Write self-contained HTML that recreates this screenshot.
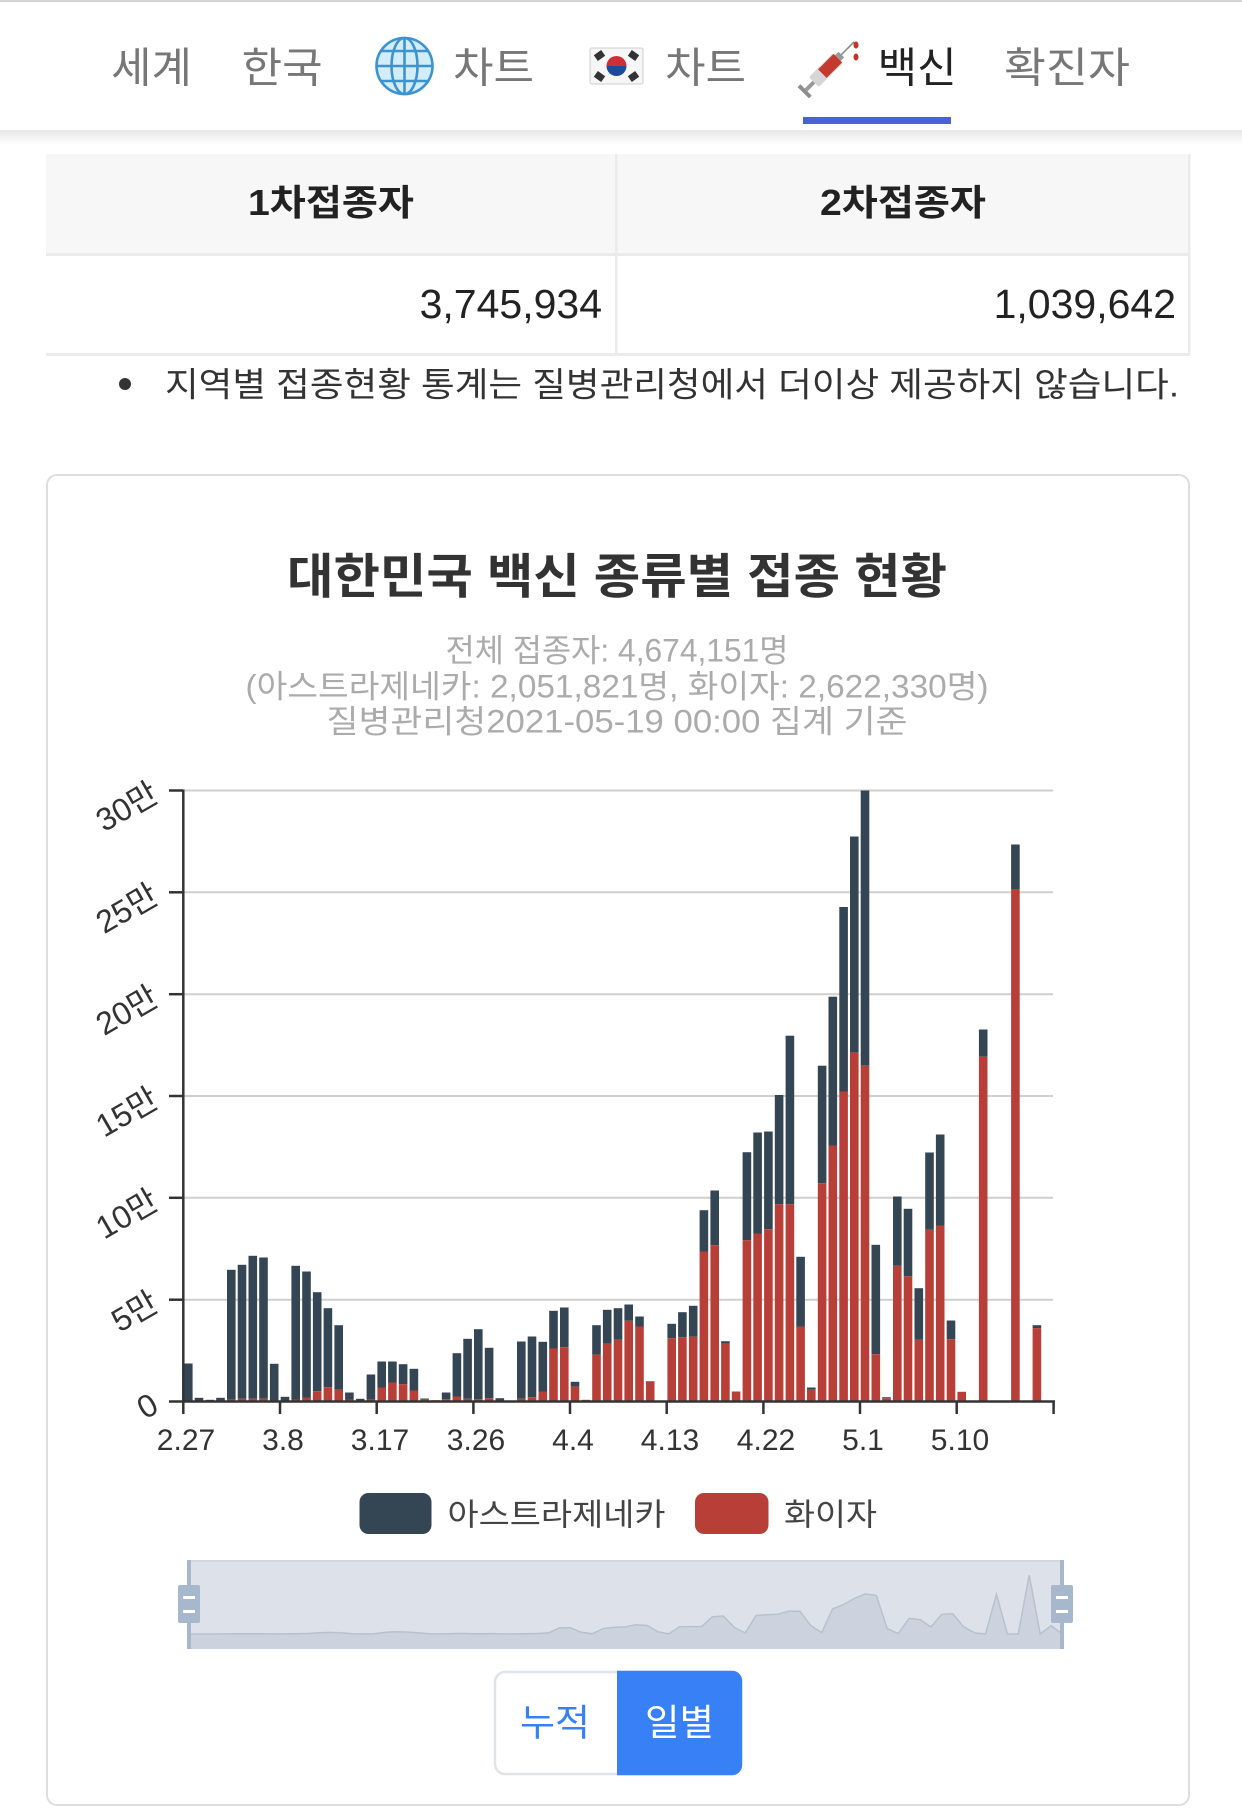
<!DOCTYPE html>
<html lang="ko">
<head>
<meta charset="utf-8">
<style>
html,body{margin:0;padding:0;background:#fff;}
body{width:1242px;height:1810px;overflow:hidden;}
svg{display:block;}
text{font-family:"Liberation Sans","Noto Sans CJK KR",sans-serif;}
</style>
</head>
<body>
<svg width="1242" height="1810" viewBox="0 0 1242 1810" xmlns="http://www.w3.org/2000/svg">
<defs>
<linearGradient id="sh" x1="0" y1="0" x2="0" y2="1">
<stop offset="0" stop-color="#000" stop-opacity="0.09"/>
<stop offset="1" stop-color="#000" stop-opacity="0"/>
</linearGradient>
</defs>

<rect x="0" y="0" width="1242" height="132" fill="#fff"/>
<rect x="0" y="0" width="1242" height="2" fill="#d4d4d4"/>
<rect x="0" y="131" width="1242" height="14" fill="url(#sh)"/>
<rect x="0" y="130" width="1242" height="1.5" fill="#e6e8ec"/>

<g font-size="42" fill="#777">
<text x="111" y="82.5" textLength="81" lengthAdjust="spacingAndGlyphs">세계</text>
<text x="241.6" y="82.5" textLength="81" lengthAdjust="spacingAndGlyphs">한국</text>
<text x="453" y="82.5" textLength="81" lengthAdjust="spacingAndGlyphs">차트</text>
<text x="665" y="82.5" textLength="81" lengthAdjust="spacingAndGlyphs">차트</text>
<text x="877.6" y="82.5" fill="#222" textLength="79" lengthAdjust="spacingAndGlyphs">백신</text>
<text x="1004" y="82.5" textLength="126" lengthAdjust="spacingAndGlyphs">확진자</text>
</g>

<g fill="none" stroke="#3d93cf" stroke-width="2.6">
<circle cx="404.5" cy="66" r="28" fill="#d3ecf9"/>
<ellipse cx="404.5" cy="66" rx="13" ry="28"/>
<line x1="404.5" y1="38" x2="404.5" y2="94"/>
<line x1="376.5" y1="66" x2="432.5" y2="66"/>
<line x1="381" y1="51" x2="428" y2="51"/>
<line x1="381" y1="81" x2="428" y2="81"/>
</g>

<rect x="590" y="48" width="53" height="36" rx="2" fill="#f6f6f6" stroke="#cfcfcf" stroke-width="1"/>
<path d="M606.5 66 A10 10 0 0 1 626.5 66 Z" fill="#cd2e3a"/>
<path d="M606.5 66 A10 10 0 0 0 626.5 66 Z" fill="#1f4a9c"/>
<g fill="#333">
<rect x="595" y="52" width="9" height="7" transform="rotate(-35 599.5 55.5)"/>
<rect x="629" y="52" width="9" height="7" transform="rotate(35 633.5 55.5)"/>
<rect x="595" y="73" width="9" height="7" transform="rotate(35 599.5 76.5)"/>
<rect x="629" y="73" width="9" height="7" transform="rotate(-35 633.5 76.5)"/>
</g>

<g transform="rotate(-45 828 68)">
<rect x="793" y="60" width="4" height="16" fill="#8e8e8e"/>
<rect x="797" y="66" width="11" height="4" fill="#9a9a9a"/>
<rect x="808" y="61" width="34" height="14" rx="2" fill="#d6d6d6"/>
<rect x="820" y="62" width="22" height="12" fill="#c53a2e"/>
<rect x="842" y="64" width="5" height="8" fill="#9a9a9a"/>
<rect x="847" y="67.2" width="18" height="1.6" fill="#8a8a8a"/>
</g>
<ellipse cx="856" cy="45" rx="2.5" ry="3.5" fill="#c8302a"/>
<ellipse cx="856" cy="57" rx="2.5" ry="3.5" fill="#c8302a"/>

<rect x="803" y="117" width="148" height="7" fill="#4a62d8"/>

<rect x="46" y="154" width="1144" height="99" fill="#f7f7f7"/>
<rect x="46" y="253" width="1144" height="3" fill="#ebebeb"/>
<rect x="46" y="353" width="1144" height="3" fill="#ebebeb"/>
<rect x="615" y="154" width="2.5" height="200" fill="#ebebeb"/>
<rect x="1188" y="154" width="2.5" height="200" fill="#ebebeb"/>
<g font-size="36" font-weight="bold" fill="#222" text-anchor="middle">
<text x="331" y="215" textLength="166" lengthAdjust="spacingAndGlyphs">1차접종자</text>
<text x="903" y="215" textLength="166" lengthAdjust="spacingAndGlyphs">2차접종자</text>
</g>
<g font-size="41" fill="#222" text-anchor="end">
<text x="602" y="318">3,745,934</text>
<text x="1176" y="318">1,039,642</text>
</g>
<circle cx="125" cy="384" r="6" fill="#333"/>
<text x="165" y="396.5" font-size="34" fill="#333" textLength="1014" lengthAdjust="spacingAndGlyphs">지역별 접종현황 통계는 질병관리청에서 더이상 제공하지 않습니다.</text>

<rect x="47" y="475" width="1142" height="1330" rx="10" fill="#fff" stroke="#dedede" stroke-width="2"/>

<text x="617" y="593" font-size="48" font-weight="bold" fill="#333" text-anchor="middle" textLength="660" lengthAdjust="spacingAndGlyphs">대한민국 백신 종류별 접종 현황</text>
<g font-size="32" fill="#ababab" text-anchor="middle">
<text x="617" y="661.5" textLength="343" lengthAdjust="spacingAndGlyphs">전체 접종자: 4,674,151명</text>
<text x="617" y="697.5" textLength="743" lengthAdjust="spacingAndGlyphs">(아스트라제네카: 2,051,821명, 화이자: 2,622,330명)</text>
<text x="617" y="732.5" textLength="581" lengthAdjust="spacingAndGlyphs">질병관리청2021-05-19 00:00 집계 기준</text>
</g>

<g stroke="#cfcfcf" stroke-width="2">
<line x1="183" y1="1299.7" x2="1053" y2="1299.7"/>
<line x1="183" y1="1197.8" x2="1053" y2="1197.8"/>
<line x1="183" y1="1096" x2="1053" y2="1096"/>
<line x1="183" y1="994.2" x2="1053" y2="994.2"/>
<line x1="183" y1="892.3" x2="1053" y2="892.3"/>
<line x1="183" y1="790.5" x2="1053" y2="790.5"/>
</g>

<g fill="#344554">
<rect x="184.0" y="1363.5" width="8.6" height="38"/>
<rect x="194.7" y="1397.8" width="8.6" height="3.7"/>
<rect x="205.5" y="1399.8" width="8.6" height="1.7"/>
<rect x="216.2" y="1397.8" width="8.6" height="3.7"/>
<rect x="227.0" y="1269.8" width="8.6" height="130"/>
<rect x="237.7" y="1264.8" width="8.6" height="134"/>
<rect x="248.5" y="1255.8" width="8.6" height="143"/>
<rect x="259.2" y="1257.5" width="8.6" height="141.3"/>
<rect x="269.9" y="1363.8" width="8.6" height="37.7"/>
<rect x="280.7" y="1396.8" width="8.6" height="3.7"/>
<rect x="291.4" y="1265.8" width="8.6" height="133.7"/>
<rect x="302.2" y="1271.5" width="8.6" height="126"/>
<rect x="312.9" y="1292.2" width="8.6" height="99"/>
<rect x="323.6" y="1308.2" width="8.6" height="79"/>
<rect x="334.4" y="1325.2" width="8.6" height="64.6"/>
<rect x="345.1" y="1392.5" width="8.6" height="7"/>
<rect x="355.9" y="1398.8" width="8.6" height="2.7"/>
<rect x="366.6" y="1374.5" width="8.6" height="25.3"/>
<rect x="377.4" y="1361.5" width="8.6" height="26"/>
<rect x="388.1" y="1361.5" width="8.6" height="21"/>
<rect x="398.8" y="1364.2" width="8.6" height="20"/>
<rect x="409.6" y="1368.8" width="8.6" height="21.7"/>
<rect x="420.3" y="1398.5" width="8.6" height="0.5"/>
<rect x="441.8" y="1392.5" width="8.6" height="6.7"/>
<rect x="452.6" y="1353.2" width="8.6" height="43.3"/>
<rect x="463.3" y="1338.8" width="8.6" height="60"/>
<rect x="474.0" y="1329.2" width="8.6" height="70"/>
<rect x="484.8" y="1347.8" width="8.6" height="50.4"/>
<rect x="495.5" y="1398.2" width="8.6" height="3.3"/>
<rect x="517.0" y="1341.5" width="8.6" height="57.3"/>
<rect x="527.7" y="1336.5" width="8.6" height="60.7"/>
<rect x="538.5" y="1341.8" width="8.6" height="49.7"/>
<rect x="549.2" y="1310.8" width="8.6" height="37.7"/>
<rect x="560.0" y="1307.5" width="8.6" height="39.7"/>
<rect x="570.7" y="1381.8" width="8.6" height="5"/>
<rect x="592.2" y="1325.2" width="8.6" height="29.6"/>
<rect x="602.9" y="1309.8" width="8.6" height="34"/>
<rect x="613.7" y="1308.2" width="8.6" height="31.6"/>
<rect x="624.4" y="1304.5" width="8.6" height="16.3"/>
<rect x="635.2" y="1316.5" width="8.6" height="10"/>
<rect x="645.9" y="1381.2" width="8.6" height="0.6"/>
<rect x="667.4" y="1323.8" width="8.6" height="14.4"/>
<rect x="678.1" y="1312.2" width="8.6" height="25"/>
<rect x="688.9" y="1305.8" width="8.6" height="31"/>
<rect x="699.6" y="1210.2" width="8.6" height="41.3"/>
<rect x="710.4" y="1190.5" width="8.6" height="54.7"/>
<rect x="721.1" y="1341.2" width="8.6" height="2.6"/>
<rect x="742.6" y="1152.2" width="8.6" height="88"/>
<rect x="753.3" y="1132.5" width="8.6" height="101"/>
<rect x="764.1" y="1131.5" width="8.6" height="97.7"/>
<rect x="774.8" y="1095" width="8.6" height="109.2"/>
<rect x="785.6" y="1035.7" width="8.6" height="168.5"/>
<rect x="796.3" y="1256.8" width="8.6" height="69.7"/>
<rect x="807.0" y="1387.5" width="8.6" height="2.3"/>
<rect x="817.8" y="1065.7" width="8.6" height="117.5"/>
<rect x="828.5" y="996.7" width="8.6" height="148.8"/>
<rect x="839.3" y="907" width="8.6" height="184.5"/>
<rect x="850.0" y="836.5" width="8.6" height="216.2"/>
<rect x="860.7" y="790.5" width="8.6" height="275.2"/>
<rect x="871.5" y="1244.8" width="8.6" height="109.4"/>
<rect x="882.2" y="1397.2" width="8.6" height="1"/>
<rect x="893.0" y="1196.5" width="8.6" height="69.3"/>
<rect x="903.7" y="1208.8" width="8.6" height="67.4"/>
<rect x="914.5" y="1288.2" width="8.6" height="51.6"/>
<rect x="925.2" y="1152.5" width="8.6" height="77.3"/>
<rect x="935.9" y="1134.5" width="8.6" height="91"/>
<rect x="946.7" y="1320.5" width="8.6" height="18.7"/>
<rect x="978.9" y="1029.5" width="8.6" height="27.2"/>
<rect x="1011.1" y="844.5" width="8.6" height="44.5"/>
<rect x="1032.6" y="1325.2" width="8.6" height="3"/>
</g>

<g fill="#b83f38">
<rect x="227.0" y="1399.8" width="8.6" height="1.7"/>
<rect x="237.7" y="1398.8" width="8.6" height="2.7"/>
<rect x="248.5" y="1398.8" width="8.6" height="2.7"/>
<rect x="259.2" y="1398.8" width="8.6" height="2.7"/>
<rect x="280.7" y="1400.5" width="8.6" height="1"/>
<rect x="291.4" y="1399.5" width="8.6" height="2"/>
<rect x="302.2" y="1397.5" width="8.6" height="4"/>
<rect x="312.9" y="1391.2" width="8.6" height="10.3"/>
<rect x="323.6" y="1387.2" width="8.6" height="14.3"/>
<rect x="334.4" y="1389.8" width="8.6" height="11.7"/>
<rect x="345.1" y="1399.5" width="8.6" height="2"/>
<rect x="366.6" y="1399.8" width="8.6" height="1.7"/>
<rect x="377.4" y="1387.5" width="8.6" height="14"/>
<rect x="388.1" y="1382.5" width="8.6" height="19"/>
<rect x="398.8" y="1384.2" width="8.6" height="17.3"/>
<rect x="409.6" y="1390.5" width="8.6" height="11"/>
<rect x="420.3" y="1399" width="8.6" height="2.5"/>
<rect x="431.1" y="1400.2" width="8.6" height="1.3"/>
<rect x="441.8" y="1399.2" width="8.6" height="2.3"/>
<rect x="452.6" y="1396.5" width="8.6" height="5"/>
<rect x="463.3" y="1398.8" width="8.6" height="2.7"/>
<rect x="474.0" y="1399.2" width="8.6" height="2.3"/>
<rect x="484.8" y="1398.2" width="8.6" height="3.3"/>
<rect x="506.3" y="1400.5" width="8.6" height="1"/>
<rect x="517.0" y="1398.8" width="8.6" height="2.7"/>
<rect x="527.7" y="1397.2" width="8.6" height="4.3"/>
<rect x="538.5" y="1391.5" width="8.6" height="10"/>
<rect x="549.2" y="1348.5" width="8.6" height="53"/>
<rect x="560.0" y="1347.2" width="8.6" height="54.3"/>
<rect x="570.7" y="1386.8" width="8.6" height="14.7"/>
<rect x="581.5" y="1399.8" width="8.6" height="1.7"/>
<rect x="592.2" y="1354.8" width="8.6" height="46.7"/>
<rect x="602.9" y="1343.8" width="8.6" height="57.7"/>
<rect x="613.7" y="1339.8" width="8.6" height="61.7"/>
<rect x="624.4" y="1320.8" width="8.6" height="80.7"/>
<rect x="635.2" y="1326.5" width="8.6" height="75"/>
<rect x="645.9" y="1381.8" width="8.6" height="19.7"/>
<rect x="656.6" y="1400.5" width="8.6" height="1"/>
<rect x="667.4" y="1338.2" width="8.6" height="63.3"/>
<rect x="678.1" y="1337.2" width="8.6" height="64.3"/>
<rect x="688.9" y="1336.8" width="8.6" height="64.7"/>
<rect x="699.6" y="1251.5" width="8.6" height="150"/>
<rect x="710.4" y="1245.2" width="8.6" height="156.3"/>
<rect x="721.1" y="1343.8" width="8.6" height="57.7"/>
<rect x="731.8" y="1391.5" width="8.6" height="10"/>
<rect x="742.6" y="1240.2" width="8.6" height="161.3"/>
<rect x="753.3" y="1233.5" width="8.6" height="168"/>
<rect x="764.1" y="1229.2" width="8.6" height="172.3"/>
<rect x="774.8" y="1204.2" width="8.6" height="197.3"/>
<rect x="785.6" y="1204.2" width="8.6" height="197.3"/>
<rect x="796.3" y="1326.5" width="8.6" height="75"/>
<rect x="807.0" y="1389.8" width="8.6" height="11.7"/>
<rect x="817.8" y="1183.2" width="8.6" height="218.3"/>
<rect x="828.5" y="1145.5" width="8.6" height="256"/>
<rect x="839.3" y="1091.5" width="8.6" height="310"/>
<rect x="850.0" y="1052.7" width="8.6" height="348.8"/>
<rect x="860.7" y="1065.7" width="8.6" height="335.8"/>
<rect x="871.5" y="1354.2" width="8.6" height="47.3"/>
<rect x="882.2" y="1398.2" width="8.6" height="3.3"/>
<rect x="893.0" y="1265.8" width="8.6" height="135.7"/>
<rect x="903.7" y="1276.2" width="8.6" height="125.3"/>
<rect x="914.5" y="1339.8" width="8.6" height="61.7"/>
<rect x="925.2" y="1229.8" width="8.6" height="171.7"/>
<rect x="935.9" y="1225.5" width="8.6" height="176"/>
<rect x="946.7" y="1339.2" width="8.6" height="62.3"/>
<rect x="957.4" y="1391.8" width="8.6" height="9.7"/>
<rect x="978.9" y="1056.7" width="8.6" height="344.8"/>
<rect x="1011.1" y="889" width="8.6" height="512.5"/>
<rect x="1032.6" y="1328.2" width="8.6" height="73.3"/>
</g>

<g stroke="#333" stroke-width="2.5">
<line x1="183.3" y1="789.5" x2="183.3" y2="1402.5"/>
<line x1="182" y1="1401.5" x2="1055" y2="1401.5"/>
<line x1="169" y1="790.5" x2="183" y2="790.5"/>
<line x1="169" y1="892.3" x2="183" y2="892.3"/>
<line x1="169" y1="994.2" x2="183" y2="994.2"/>
<line x1="169" y1="1096" x2="183" y2="1096"/>
<line x1="169" y1="1197.8" x2="183" y2="1197.8"/>
<line x1="169" y1="1299.7" x2="183" y2="1299.7"/>
<line x1="169" y1="1401.5" x2="183" y2="1401.5"/>
<line x1="183.3" y1="1401.5" x2="183.3" y2="1414"/>
<line x1="280" y1="1401.5" x2="280" y2="1414"/>
<line x1="376.7" y1="1401.5" x2="376.7" y2="1414"/>
<line x1="473.4" y1="1401.5" x2="473.4" y2="1414"/>
<line x1="570" y1="1401.5" x2="570" y2="1414"/>
<line x1="666.7" y1="1401.5" x2="666.7" y2="1414"/>
<line x1="763.4" y1="1401.5" x2="763.4" y2="1414"/>
<line x1="860" y1="1401.5" x2="860" y2="1414"/>
<line x1="956.7" y1="1401.5" x2="956.7" y2="1414"/>
<line x1="1053.6" y1="1401.5" x2="1053.6" y2="1414"/>
</g>

<g font-size="30" fill="#333" text-anchor="middle">
<text x="186" y="1450">2.27</text>
<text x="283" y="1450">3.8</text>
<text x="380" y="1450">3.17</text>
<text x="476" y="1450">3.26</text>
<text x="573" y="1450">4.4</text>
<text x="670" y="1450">4.13</text>
<text x="766" y="1450">4.22</text>
<text x="863" y="1450">5.1</text>
<text x="960" y="1450">5.10</text>
</g>

<g font-size="32" fill="#333" text-anchor="end">
<text transform="translate(155 1401.5) rotate(-30)" x="0" y="11">0</text>
<text transform="translate(155 1299.7) rotate(-30)" x="0" y="11">5만</text>
<text transform="translate(155 1197.8) rotate(-30)" x="0" y="11">10만</text>
<text transform="translate(155 1096) rotate(-30)" x="0" y="11">15만</text>
<text transform="translate(155 994.2) rotate(-30)" x="0" y="11">20만</text>
<text transform="translate(155 892.3) rotate(-30)" x="0" y="11">25만</text>
<text transform="translate(155 790.5) rotate(-30)" x="0" y="11">30만</text>
</g>

<rect x="359.5" y="1493" width="72" height="41" rx="9" fill="#344554"/>
<text x="447.5" y="1525.5" font-size="31" fill="#444" textLength="218" lengthAdjust="spacingAndGlyphs">아스트라제네카</text>
<rect x="695" y="1493" width="73.5" height="41" rx="9" fill="#b83f38"/>
<text x="784" y="1525.5" font-size="31" fill="#444" textLength="93" lengthAdjust="spacingAndGlyphs">화이자</text>

<rect x="188" y="1561" width="874" height="88" fill="#dde1ea"/>
<rect x="188" y="1560" width="874" height="2" fill="#d2d7e0"/>
<path d="M188 1649 L188 1634 L198.9 1634 L209.9 1634 L220.8 1634 L231.7 1633.8 L242.6 1633.7 L253.6 1633.7 L264.5 1633.7 L275.4 1634 L286.3 1633.9 L297.3 1633.8 L308.2 1633.5 L319.1 1632.8 L330 1632.4 L341 1632.7 L351.9 1633.8 L362.8 1634 L373.7 1633.8 L384.7 1632.4 L395.6 1631.8 L406.5 1632 L417.4 1632.7 L428.4 1633.7 L439.3 1633.9 L450.2 1633.7 L461.1 1633.4 L472.1 1633.7 L483 1633.7 L493.9 1633.6 L504.8 1634 L515.8 1633.9 L526.7 1633.7 L537.6 1633.5 L548.5 1632.9 L559.5 1627.9 L570.4 1627.8 L581.3 1632.3 L592.2 1633.8 L603.2 1628.6 L614.1 1627.4 L625 1626.9 L635.9 1624.7 L646.9 1625.4 L657.8 1631.7 L668.7 1633.9 L679.6 1626.7 L690.6 1626.6 L701.5 1626.6 L712.4 1616.8 L723.3 1616 L734.3 1627.4 L745.2 1632.9 L756.1 1615.5 L767 1614.7 L778 1614.2 L788.9 1611.3 L799.8 1611.3 L810.7 1625.4 L821.7 1632.7 L832.6 1608.9 L843.5 1604.6 L854.4 1598.4 L865.4 1593.9 L876.3 1595.4 L887.2 1628.6 L898.1 1633.6 L909.1 1618.4 L920 1619.6 L930.9 1626.9 L941.8 1614.3 L952.8 1613.8 L963.7 1626.8 L974.6 1632.9 L985.5 1634 L996.5 1594.3 L1007.4 1634 L1018.3 1634 L1029.2 1575.1 L1040.2 1634 L1051.1 1625.6 L1062 1634 L1062 1649 Z" fill="#cdd3de" stroke="none"/>
<path d="M188 1634 L198.9 1634 L209.9 1634 L220.8 1634 L231.7 1633.8 L242.6 1633.7 L253.6 1633.7 L264.5 1633.7 L275.4 1634 L286.3 1633.9 L297.3 1633.8 L308.2 1633.5 L319.1 1632.8 L330 1632.4 L341 1632.7 L351.9 1633.8 L362.8 1634 L373.7 1633.8 L384.7 1632.4 L395.6 1631.8 L406.5 1632 L417.4 1632.7 L428.4 1633.7 L439.3 1633.9 L450.2 1633.7 L461.1 1633.4 L472.1 1633.7 L483 1633.7 L493.9 1633.6 L504.8 1634 L515.8 1633.9 L526.7 1633.7 L537.6 1633.5 L548.5 1632.9 L559.5 1627.9 L570.4 1627.8 L581.3 1632.3 L592.2 1633.8 L603.2 1628.6 L614.1 1627.4 L625 1626.9 L635.9 1624.7 L646.9 1625.4 L657.8 1631.7 L668.7 1633.9 L679.6 1626.7 L690.6 1626.6 L701.5 1626.6 L712.4 1616.8 L723.3 1616 L734.3 1627.4 L745.2 1632.9 L756.1 1615.5 L767 1614.7 L778 1614.2 L788.9 1611.3 L799.8 1611.3 L810.7 1625.4 L821.7 1632.7 L832.6 1608.9 L843.5 1604.6 L854.4 1598.4 L865.4 1593.9 L876.3 1595.4 L887.2 1628.6 L898.1 1633.6 L909.1 1618.4 L920 1619.6 L930.9 1626.9 L941.8 1614.3 L952.8 1613.8 L963.7 1626.8 L974.6 1632.9 L985.5 1634 L996.5 1594.3 L1007.4 1634 L1018.3 1634 L1029.2 1575.1 L1040.2 1634 L1051.1 1625.6 L1062 1634" fill="none" stroke="#b9c1cd" stroke-width="1.5"/>
<g fill="#a7b7cc">
<rect x="187" y="1560" width="4" height="89"/>
<rect x="178" y="1585" width="22" height="38" rx="2"/>
<rect x="1060" y="1560" width="4" height="89"/>
<rect x="1051" y="1585" width="22" height="38" rx="2"/>
</g>
<g fill="#fff">
<rect x="183" y="1596" width="12" height="3"/>
<rect x="183" y="1610" width="12" height="3"/>
<rect x="1056" y="1596" width="12" height="3"/>
<rect x="1056" y="1610" width="12" height="3"/>
</g>

<rect x="495" y="1672" width="246" height="102" rx="10" fill="#fff" stroke="#e0e3e8" stroke-width="2.5"/>
<path d="M617 1670.8 H732 A10 10 0 0 1 742.2 1681 V1765 A10 10 0 0 1 732 1775.2 H617 Z" fill="#3880f6"/>
<text x="555" y="1735.5" font-size="37" fill="#3880f6" text-anchor="middle" textLength="70" lengthAdjust="spacingAndGlyphs">누적</text>
<text x="679.5" y="1735.5" font-size="37" fill="#fff" text-anchor="middle" textLength="69" lengthAdjust="spacingAndGlyphs">일별</text>
</svg>
</body>
</html>
